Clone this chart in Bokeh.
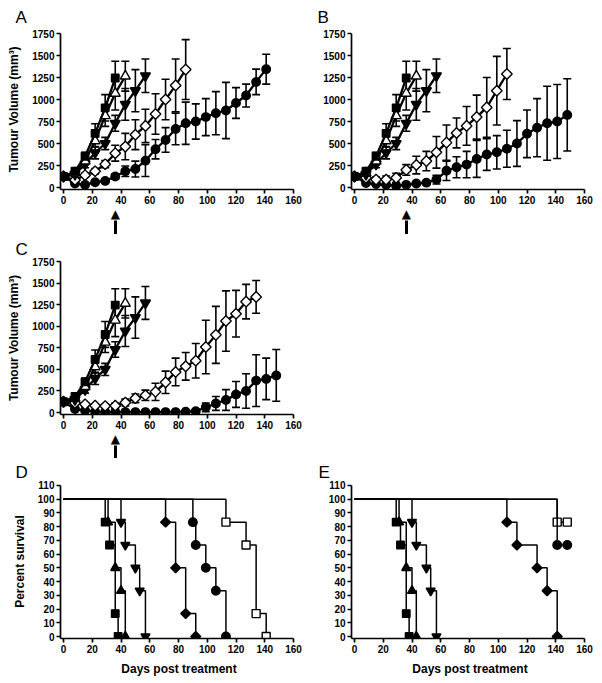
import numpy as np
from bokeh.plotting import figure
from bokeh.models import (ColumnDataSource, Whisker, TeeHead, FixedTicker, Range1d,
                          LinearAxis, Title)
from bokeh.layouts import column, row
from bokeh.embed import file_html
from bokeh.resources import INLINE

FONT = "Liberation Sans"

# ---------------- growth data (days post treatment, tumour volume mm3, SEM) -------------
sched = [0, 8, 15, 22, 29, 36, 43, 50, 57, 64, 71, 78, 85, 92, 99, 106, 113, 120, 127, 134, 141, 148]

sq_vol = [125, 185, 355, 615, 905, 1245]
sq_err = [20, 25, 45, 110, 150, 190]

tri_vol = [125, 165, 300, 530, 815, 1070, 1265]
tri_err = [20, 25, 40, 70, 120, 190, 170]

inv_vol = [125, 150, 265, 395, 500, 730, 945, 1100, 1270]
inv_err = [20, 20, 40, 70, 70, 90, 180, 240, 190]

A_dia_vol = [125, 85, 140, 185, 265, 390, 465, 600, 700, 835, 1000, 1160, 1340]
A_dia_err = [20, 15, 20, 30, 40, 90, 150, 170, 190, 230, 230, 300, 340]
A_cir_vol = [125, 45, 30, 60, 75, 125, 185, 210, 305, 435, 540, 665, 730, 750, 800, 845, 875, 960, 1045, 1200, 1345]
A_cir_err = [20, 10, 10, 15, 15, 30, 60, 90, 180, 110, 140, 180, 240, 200, 210, 245, 320, 175, 130, 145, 170]

B_dia_vol = [125, 110, 90, 90, 110, 200, 255, 300, 400, 510, 620, 700, 800, 910, 1100, 1290]
B_dia_err = [20, 20, 30, 40, 50, 60, 100, 110, 180, 200, 170, 220, 250, 340, 390, 290]
B_cir_vol = [125, 50, 40, 30, 20, 30, 45, 55, 90, 190, 230, 260, 325, 375, 400, 440, 500, 610, 680, 730, 750, 825]
B_cir_err = [20, 10, 10, 10, 10, 10, 15, 20, 50, 110, 120, 150, 210, 180, 190, 210, 260, 270, 330, 420, 420, 410]

C_dia_vol = [125, 110, 95, 80, 75, 80, 115, 165, 200, 240, 350, 470, 535, 600, 760, 900, 1060, 1145, 1285, 1340]
C_dia_err = [20, 15, 15, 15, 20, 30, 40, 50, 60, 100, 130, 160, 160, 200, 310, 330, 350, 270, 200, 190]
C_cir_vol = [125, 40, 25, 10, 5, 5, 5, 5, 5, 5, 5, 5, 10, 15, 60, 105, 145, 210, 250, 370, 390, 430]
C_cir_err = [20, 15, 10, 5, 5, 5, 5, 5, 5, 5, 5, 5, 5, 10, 50, 80, 120, 150, 200, 300, 240, 300]

x_ticks = [0, 20, 40, 60, 80, 100, 120, 140, 160]
vol_ticks = [0, 250, 500, 750, 1000, 1250, 1500, 1750]
surv_ticks = [0, 10, 20, 30, 40, 50, 60, 70, 80, 90, 100, 110]

# ---------------- survival data (day, percent survival) ----------------
sq_t = [0, 29, 32, 36, 38]
sq_s = [100, 83.3, 66.7, 16.7, 0]
tri_t = [0, 31, 36, 40, 43]
tri_s = [100, 83.3, 50, 33.3, 0]
inv_t = [0, 40, 43, 50, 53, 57]
inv_s = [100, 83.3, 66.7, 50, 33.3, 0]

D_dia_t = [0, 71, 78, 85, 92]
D_dia_s = [100, 83.3, 50, 16.7, 0]
D_cir_t = [0, 90, 92, 99, 106, 113]
D_cir_s = [100, 83.3, 66.7, 50, 33.3, 0]
D_osq_t = [0, 113, 127, 134, 141]
D_osq_s = [100, 83.3, 66.7, 16.7, 0]

E_dia_t = [0, 106, 113, 127, 134, 141]
E_dia_s = [100, 83.3, 66.7, 50, 33.3, 0]
E_cir_t = [0, 141, 148]
E_cir_s = [100, 66.7, 66.7]
E_osq_t = [0, 141, 148]
E_osq_s = [100, 83.3, 83.3]

treat_day = 36


def style_axis(ax):
    ax.minor_tick_line_color = None
    ax.major_tick_out = 4
    ax.major_tick_in = 0
    ax.axis_line_width = 1.7
    ax.major_tick_line_width = 1.7
    ax.major_label_text_font = FONT
    ax.major_label_text_font_style = "bold"
    ax.major_label_text_font_size = "10px"
    ax.major_label_text_color = "black"
    ax.major_label_standoff = 2
    ax.axis_label_text_font = FONT
    ax.axis_label_text_font_style = "bold"
    ax.axis_label_text_font_size = "12px"
    ax.axis_label_text_color = "black"


def make_panel(W, H, frame, xpx, ypx, ymax, yticks, ylabel, xlabel, letter, letter_x, title_standoff,
               arrow=False, shaft=11):
    fl, fr, ft, fb = frame
    sx = 160.0 / (xpx[1] - xpx[0])
    sy = ymax / (ypx[0] - ypx[1])
    x0 = (fl - xpx[0]) * sx
    y0 = -(fb - ypx[0]) * sy
    xr = Range1d(x0, (fr - xpx[0]) * sx)
    yr = Range1d(y0, (ypx[0] - ft) * sy)
    p = figure(width=W, height=H, x_range=xr, y_range=yr, output_backend="svg",
               toolbar_location=None, min_border_left=fl, min_border_right=W - fr,
               min_border_top=ft, min_border_bottom=H - fb)
    p.grid.visible = False
    p.outline_line_color = None
    p.background_fill_color = "white"
    p.border_fill_color = "white"
    p.title.text = letter
    p.title.align = "left"
    p.title.offset = letter_x - fl
    p.title.standoff = title_standoff
    p.title.text_font = FONT
    p.title.text_font_style = "normal"
    p.title.text_font_size = "17px"
    p.title.text_color = "black"
    for ax, b, t in ((p.xaxis[0], (x0, 160), x_ticks), (p.yaxis[0], (y0, ymax), yticks)):
        ax.bounds = b
        ax.ticker = FixedTicker(ticks=t)
        style_axis(ax)
    if ylabel:
        p.yaxis.axis_label = ylabel
        p.yaxis.axis_label_standoff = 8
    if xlabel:
        p.xaxis.axis_label = xlabel
        p.xaxis.axis_label_standoff = 6
    if arrow:
        # treatment arrow drawn with two extra axes: head (label) and shaft (tick)
        head = LinearAxis(ticker=FixedTicker(ticks=[treat_day]), axis_line_color=None,
                          major_tick_line_color=None, major_tick_out=0, major_tick_in=0,
                          minor_tick_line_color=None, major_label_standoff=0,
                          major_label_overrides={treat_day: "\u25b2"},
                          major_label_text_font="DejaVu Sans", major_label_text_font_size="12px",
                          major_label_text_color="black")
        body = LinearAxis(ticker=FixedTicker(ticks=[treat_day]), axis_line_color=None,
                          major_tick_line_color="black", major_tick_line_width=3,
                          major_tick_out=shaft, major_tick_in=3, minor_tick_line_color=None,
                          major_label_standoff=0, major_label_overrides={treat_day: " "},
                          major_label_text_font_size="1px", major_label_text_alpha=0)
        p.add_layout(head, "below")
        p.add_layout(body, "below")
    return p


def growth(p, vol, err, marker, fill, size, angle=0.0):
    days = sched[:len(vol)]
    src = ColumnDataSource(dict(x=days, y=vol,
                                lo=[v - e for v, e in zip(vol, err)],
                                hi=[v + e for v, e in zip(vol, err)]))
    p.add_layout(Whisker(source=src, base="x", lower="lo", upper="hi", line_color="black",
                         line_width=1.6,
                         upper_head=TeeHead(size=8, line_color="black", line_width=1.6),
                         lower_head=TeeHead(size=8, line_color="black", line_width=1.6)))
    p.line("x", "y", source=src, line_color="black", line_width=2.3)
    p.scatter("x", "y", source=src, marker=marker, size=size, fill_color=fill,
              line_color="black", line_width=1.4, angle=angle)


def survival(p, t, s, marker, fill, size, angle=0.0):
    p.step(t, s, mode="after", line_color="black", line_width=1.5)
    p.scatter(t[1:], s[1:], marker=marker, size=size, fill_color=fill, line_color="black",
              line_width=1.4, angle=angle)


VOL_LABEL = "Tumour Volume (mm\u00b3)"

pA = make_panel(310, 234, (60, 297, 29, 189), (63, 293), (187, 33), 1750, vol_ticks, VOL_LABEL,
                None, "A", 15, 5, arrow=True, shaft=11)
pB = make_panel(292, 234, (41, 278, 29, 189), (44, 274), (187, 33), 1750, vol_ticks, None,
                None, "B", 7, 5, arrow=True, shaft=11)
pC = make_panel(310, 224, (60, 297, 25, 181), (63, 293), (179, 25), 1750, vol_ticks, VOL_LABEL,
                None, "C", 15, 6, arrow=True, shaft=10)

for p, dv, de, cv, ce in ((pA, A_dia_vol, A_dia_err, A_cir_vol, A_cir_err),
                          (pB, B_dia_vol, B_dia_err, B_cir_vol, B_cir_err),
                          (pC, C_dia_vol, C_dia_err, C_cir_vol, C_cir_err)):
    growth(p, cv, ce, "circle", "black", 8.5)
    growth(p, dv, de, "square", "white", 7.5, np.pi / 4)
    growth(p, inv_vol, inv_err, "inverted_triangle", "black", 10)
    growth(p, tri_vol, tri_err, "triangle", "white", 10)
    growth(p, sq_vol, sq_err, "square", "black", 7.5)

pD = make_panel(310, 225, (60, 297, 24, 180), (63, 293), (178, 25), 110, surv_ticks,
                "Percent survival", "Days post treatment", "D", 15, 5)
pE = make_panel(292, 225, (41, 278, 24, 180), (44, 274), (178, 25), 110, surv_ticks, None,
                "Days post treatment", "E", 8, 5)

for p, dt, ds, ct, cs, ot, os_ in ((pD, D_dia_t, D_dia_s, D_cir_t, D_cir_s, D_osq_t, D_osq_s),
                                   (pE, E_dia_t, E_dia_s, E_cir_t, E_cir_s, E_osq_t, E_osq_s)):
    survival(p, ot, os_, "square", "white", 8)
    survival(p, ct, cs, "circle", "black", 8.5)
    survival(p, dt, ds, "square", "black", 7, np.pi / 4)
    survival(p, inv_t, inv_s, "inverted_triangle", "black", 9)
    survival(p, tri_t, tri_s, "triangle", "black", 9)
    survival(p, sq_t, sq_s, "square", "black", 7.5)

layout = column(row(pA, pB), row(pC), row(pD, pE))
open("out.html", "w").write(file_html(layout, INLINE))
